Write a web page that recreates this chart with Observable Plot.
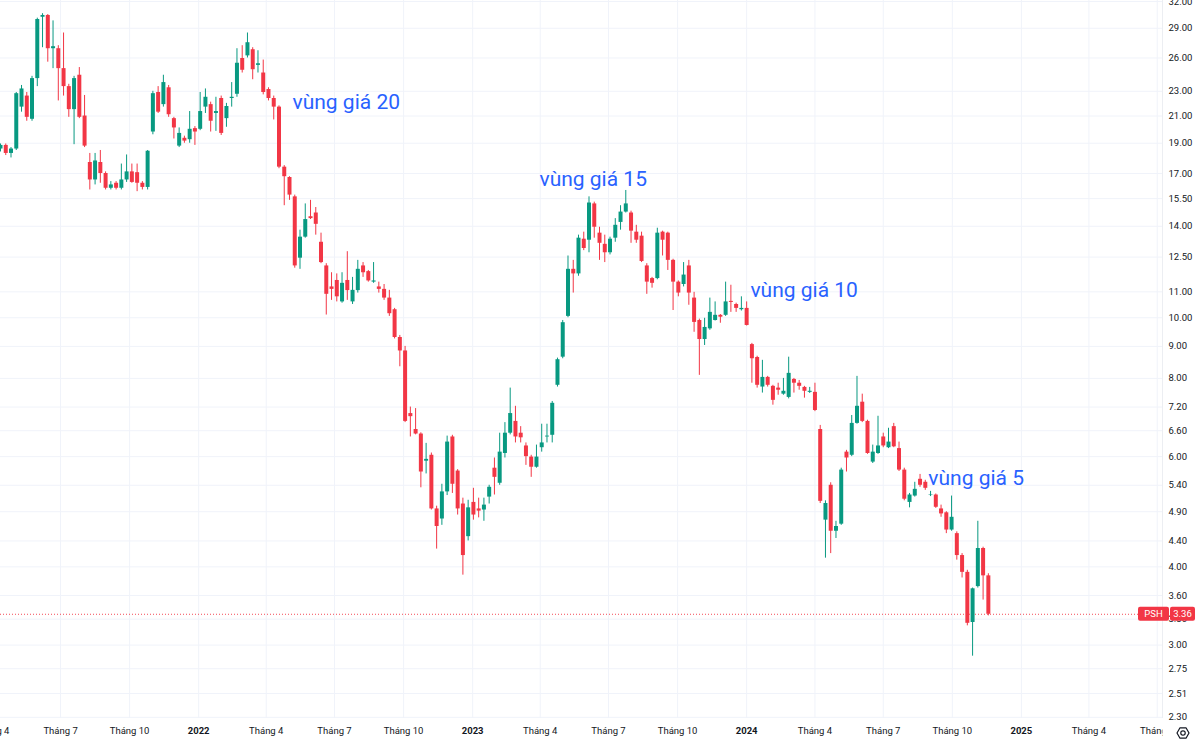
<!DOCTYPE html>
<html>
<head>
<meta charset="utf-8">
<script src="https://cdn.jsdelivr.net/npm/d3@7"></script>
<script src="https://cdn.jsdelivr.net/npm/@observablehq/plot@0.6"></script>
<style>
  html, body { margin: 0; padding: 0; background: #ffffff; overflow: hidden; }
  #chart svg { display: block; }
</style>
</head>
<body>
<div id="chart"></div>
<script>
// ---- Data (weekly candles, PSH) ----
const firstWeek = "2021-04-12";
const opens = [
18.6,18.85,18.3,18.6,21.7,22.6,20.75,24.1,30.2,30.4,
26.9,26.9,25.0,23.4,21.5,24.4,21.0,17.7,16.6,17.7,
17.0,16.1,16.4,16.1,16.6,17.1,17.05,16.4,16.15,19.8,
22.9,21.9,23.3,20.8,18.8,19.35,19.25,20.05,20.0,21.7,
21.9,21.2,22.4,20.8,22.4,22.75,25.95,26.2,26.8,25.3,
24.6,23.15,22.4,21.7,17.4,16.75,15.6,12.45,13.45,14.5,
14.7,13.2,12.1,11.2,11.47,10.6,11.47,10.6,11.05,12.1,
11.85,11.4,11.2,11.1,10.75,10.3,9.3,8.85,7.03,6.63,
6.52,5.9,6.03,4.95,4.77,5.27,6.45,5.69,5.04,4.47,
5.07,4.95,4.93,5.17,5.75,5.44,6.07,6.54,6.83,6.54,
6.24,5.99,5.77,6.2,6.45,6.49,7.8,8.65,10.05,11.95,
11.75,13.35,13.3,15.2,13.65,13.1,12.7,13.4,14.2,14.75,
14.7,13.7,13.5,12.1,11.55,11.55,13.7,13.65,12.35,11.4,
11.3,12.1,10.75,9.9,9.23,9.6,9.9,10.09,10.09,10.62,
10.5,10.3,10.35,9.06,8.64,7.75,8.03,7.77,7.72,7.55,
7.46,7.97,7.86,7.74,7.6,7.6,6.63,4.75,5.4,4.56,
4.68,6.1,6.03,6.78,7.33,6.83,5.88,6.07,6.45,6.2,
6.7,6.18,5.71,5.07,5.19,5.52,5.46,5.2,5.21,4.95,
4.88,4.58,4.52,4.17,3.92,3.26,3.72,4.28,3.87
];
const highs = [
18.95,18.95,18.7,22.9,23.5,22.9,24.3,30.1,30.6,30.5,
29.8,27.2,28.5,23.6,24.3,25.1,22.65,18.3,18.3,18.5,
17.1,16.5,16.5,17.6,18.2,17.6,17.6,16.5,18.5,23.0,
23.4,24.4,23.5,20.9,20.1,19.5,21.35,20.2,22.9,23.2,
22.1,22.5,22.6,22.0,23.75,26.9,27.2,28.5,27.0,26.7,
25.8,23.3,22.6,21.8,17.5,16.8,15.7,13.8,15.2,15.4,
15.0,13.65,12.2,11.8,11.75,11.8,12.75,11.6,12.35,12.25,
11.9,12.25,11.4,11.3,11.06,10.35,9.37,9.0,7.2,7.16,
6.55,6.3,6.08,5.0,5.42,6.47,6.49,5.72,5.15,5.11,
5.34,5.15,5.15,5.4,5.97,6.54,6.8,7.72,7.22,6.7,
6.31,6.03,6.26,6.76,6.76,7.35,8.62,9.9,12.55,12.35,
13.55,13.7,15.6,15.3,13.95,13.55,13.45,14.4,15.1,15.97,
14.8,14.05,13.7,12.2,11.6,13.9,13.75,13.7,12.4,11.45,
12.25,12.35,10.98,9.95,9.98,10.75,10.6,10.12,11.4,11.27,
10.55,10.8,10.6,9.1,8.68,8.55,8.06,7.8,7.86,8.0,
8.65,8.0,7.94,7.77,7.74,7.86,6.73,5.1,5.45,4.73,
5.75,6.14,6.98,8.06,7.55,6.86,6.26,6.96,6.54,6.66,
6.78,6.33,5.75,5.24,5.46,5.62,5.5,5.28,5.23,5.02,
4.9,5.19,4.55,4.2,3.95,3.7,4.73,4.3,3.9
];
const lows = [
18.4,18.16,18.0,18.5,21.3,20.6,20.6,23.4,27.0,25.6,
25.0,22.2,22.6,20.9,18.9,20.8,18.7,16.0,16.3,16.4,
16.0,16.0,16.0,16.0,16.45,16.4,15.9,16.0,16.0,19.6,
21.2,21.7,20.9,19.3,18.7,19.0,19.0,18.85,19.9,21.2,
19.8,19.85,19.55,20.15,21.7,22.5,24.6,26.0,24.0,24.6,
22.7,22.2,20.7,17.3,15.1,15.4,12.0,11.95,13.4,14.35,
13.55,12.2,10.1,10.66,10.6,10.55,10.66,10.5,10.95,11.6,
11.4,11.35,10.95,10.66,10.05,9.25,8.35,6.8,6.45,6.5,
5.35,5.63,4.93,4.27,4.66,5.2,5.24,4.84,3.88,4.4,
4.75,4.79,4.73,5.04,5.21,5.4,5.97,6.5,6.31,6.31,
5.81,5.56,5.75,6.1,6.31,6.31,7.75,8.6,10.0,10.95,
11.65,12.8,12.7,13.4,12.35,12.25,12.6,13.2,13.8,14.7,
13.15,13.15,12.25,10.9,11.15,11.5,12.55,11.9,10.27,10.8,
11.2,10.47,9.48,8.09,9.03,9.55,9.88,9.8,10.05,10.2,
10.2,10.25,9.7,7.86,7.72,7.58,7.75,7.25,7.52,7.52,
7.42,7.58,7.66,7.44,7.57,7.08,5.05,4.13,4.2,4.44,
4.66,5.67,6.0,6.76,6.8,6.05,5.85,6.05,6.2,6.18,
6.2,5.68,5.1,4.97,5.17,5.36,5.3,5.18,4.96,4.8,
4.52,4.56,4.1,3.84,3.22,2.88,3.7,3.54,3.34
];
const closes = [
18.85,18.3,18.6,22.8,23.2,20.9,24.1,29.95,30.4,26.9,
27.1,25.0,23.4,21.5,24.1,20.9,18.8,16.6,17.8,17.0,
16.1,16.3,16.1,16.6,17.1,16.45,16.4,16.15,18.45,22.8,
21.3,23.75,21.1,20.1,19.7,19.15,20.0,19.8,21.35,22.5,
20.6,21.35,19.7,21.75,22.5,25.5,24.85,27.5,24.9,25.45,
22.9,22.4,21.7,17.4,16.8,15.7,12.1,13.45,14.35,14.4,
14.1,12.25,10.9,11.1,10.8,11.35,11.05,11.06,11.95,11.8,
11.45,11.45,11.1,10.75,10.15,9.3,8.85,6.83,6.95,6.52,
5.67,5.94,4.95,4.64,5.27,6.33,5.42,4.95,4.17,4.97,
4.84,4.91,5.02,5.36,5.56,6.1,6.54,7.03,6.45,6.43,
6.0,5.77,5.99,6.31,6.47,7.3,8.57,9.82,11.95,11.75,
13.4,12.9,15.25,13.95,13.15,12.7,13.35,14.05,14.75,15.2,
13.75,13.3,12.3,11.4,11.35,13.65,13.3,12.35,11.4,10.95,
11.7,10.95,9.83,9.23,9.65,10.2,10.09,10.02,10.6,10.58,
10.35,10.35,9.72,8.6,7.8,8.03,7.8,7.38,7.66,7.63,
8.15,7.86,7.77,7.63,7.63,7.11,5.09,5.05,4.56,4.64,
5.71,5.97,6.78,7.22,6.83,6.07,6.1,6.24,6.24,6.33,
6.22,5.71,5.13,5.21,5.32,5.4,5.34,5.21,4.98,4.86,
4.58,4.8,4.17,3.92,3.25,3.69,4.28,3.87,3.36
];

const priceTicks = [2.30, 2.51, 2.75, 3.00, 3.30, 3.60, 4.00, 4.40, 4.90, 5.40, 6.00, 6.60, 7.20, 8.00, 9.00, 10.00, 11.00, 12.50, 14.00, 15.50, 17.00, 19.00, 21.00, 23.00, 26.00, 29.00, 32.00];

const timeTickDates = ["2021-04-01","2021-07-01","2021-10-01","2022-01-01","2022-04-01","2022-07-01","2022-10-01","2023-01-01","2023-04-01","2023-07-01","2023-10-01","2024-01-01","2024-04-01","2024-07-01","2024-10-01","2025-01-01","2025-04-01","2025-07-01"];
const timeTickLabels = ["Tháng 4","Tháng 7","Tháng 10","2022","Tháng 4","Tháng 7","Tháng 10","2023","Tháng 4","Tháng 7","Tháng 10","2024","Tháng 4","Tháng 7","Tháng 10","2025","Tháng 4","Tháng 7"];

const annotationLabels = ["vùng giá 20", "vùng giá 15", "vùng giá 10", "vùng giá 5"];
const annotationDates = ["2022-05-06", "2023-03-31", "2024-01-06", "2024-08-30"];
const annotationPrices = [22.07, 16.63, 11.06, 5.54];

const symbol = "PSH";
const lastPrice = 3.36;

// ---- Build tables ----
const UP = "#089981", DOWN = "#f23645";
const start = new Date(firstWeek + "T00:00:00Z");
const candles = opens.map((o, i) => ({
  date: d3.utcWeek.offset(start, i),
  open: o, high: highs[i], low: lows[i], close: closes[i],
  color: closes[i] >= o ? UP : DOWN
}));
const ticks = timeTickDates.map((d, i) => ({date: new Date(d + "T00:00:00Z"), label: timeTickLabels[i], year: /^\d{4}$/.test(timeTickLabels[i])}));
const labelOf = new Map(ticks.map(t => [+t.date, t.label]));
const monthTicks = ticks.filter(t => !t.year).map(t => t.date);
const yearTicks = ticks.filter(t => t.year).map(t => t.date);
const notes = annotationLabels.map((l, i) => ({label: l, date: new Date(annotationDates[i] + "T00:00:00Z"), price: annotationPrices[i]}));

const font = "Roboto, 'Noto Sans', sans-serif";
const chart = Plot.plot({
  width: 1200,
  height: 748,
  marginTop: 0,
  marginBottom: 30,
  marginLeft: 0,
  marginRight: 38,
  style: {fontFamily: font, background: "#ffffff", color: "#131722", overflow: "visible"},
  x: {type: "utc", domain: [new Date("2021-04-12T00:00:00Z"), new Date("2025-07-08T00:00:00Z")]},
  y: {type: "log", domain: [2.29, 32.12]},
  marks: [
    Plot.gridY(priceTicks, {stroke: "#f0f3fa", strokeOpacity: 1}),
    Plot.gridX(ticks.map(t => t.date), {stroke: "#f0f3fa", strokeOpacity: 1}),
    Plot.ruleY([lastPrice], {stroke: DOWN, strokeDasharray: "1,2", strokeOpacity: 0.9}),
    Plot.ruleX(candles, {x: "date", y1: "low", y2: "high", stroke: "color", strokeWidth: 1}),
    Plot.ruleX(candles, {x: "date", y1: "open", y2: "close", stroke: "color", strokeWidth: 4}),
    Plot.text(notes, {x: "date", y: "price", text: "label", textAnchor: "start", fill: "#2962ff", fontSize: 21, fontFamily: font}),
    Plot.ruleX([new Date("2025-07-08T00:00:00Z")], {stroke: "#eceef2"}),
    Plot.axisY(priceTicks, {anchor: "right", tickSize: 0, tickPadding: 6, tickFormat: d => d.toFixed(2), fontSize: 9.5, fill: "#131722", label: null}),
    Plot.axisX(monthTicks, {anchor: "bottom", tickSize: 0, tickPadding: 9, tickFormat: d => labelOf.get(+d), fontSize: 9.5, fill: "#131722", label: null}),
    Plot.axisX(yearTicks, {anchor: "bottom", tickSize: 0, tickPadding: 9, tickFormat: d => labelOf.get(+d), fontSize: 9.5, fontWeight: "bold", fill: "#131722", label: null})
  ]
});
document.getElementById("chart").appendChild(chart);

// ---- Post-processing: clip time labels at price-axis edge, price badge, settings icon ----
const svg = d3.select(chart);
const xEdge = chart.scale("x").range[1];
const defs = svg.append("defs");
defs.append("clipPath").attr("id", "timeclip").append("rect")
  .attr("x", -50).attr("y", 0).attr("width", xEdge + 50).attr("height", 748);
svg.selectAll('g[aria-label="x-axis tick label"]').attr("clip-path", "url(#timeclip)");

const yv = chart.scale("y").apply(lastPrice);
const badge = svg.append("g").attr("font-family", font).attr("font-size", 9.5);
badge.append("rect").attr("x", xEdge - 24).attr("y", yv - 7).attr("width", 31).attr("height", 14).attr("rx", 2).attr("fill", DOWN);
badge.append("rect").attr("x", xEdge + 8).attr("y", yv - 7).attr("width", 25).attr("height", 14).attr("rx", 2).attr("fill", DOWN);
badge.append("text").attr("x", xEdge - 8.5).attr("y", yv).attr("dy", "0.35em").attr("text-anchor", "middle").attr("fill", "#fff").text(symbol);
badge.append("text").attr("x", xEdge + 20.5).attr("y", yv).attr("dy", "0.35em").attr("text-anchor", "middle").attr("fill", "#fff").text(lastPrice.toFixed(2));

const gear = svg.append("g").attr("transform", `translate(${xEdge + 21},${733})`).attr("fill", "none").attr("stroke", "#131722").attr("stroke-width", 1.2);
gear.append("path").attr("d", d3.range(6).map(k => { const a = Math.PI / 3 * k; return (k ? "L" : "M") + (6 * Math.cos(a)).toFixed(2) + "," + (6 * Math.sin(a)).toFixed(2); }).join("") + "Z").attr("stroke-linejoin", "round");
gear.append("circle").attr("r", 2.2);
</script>
</body>
</html>
